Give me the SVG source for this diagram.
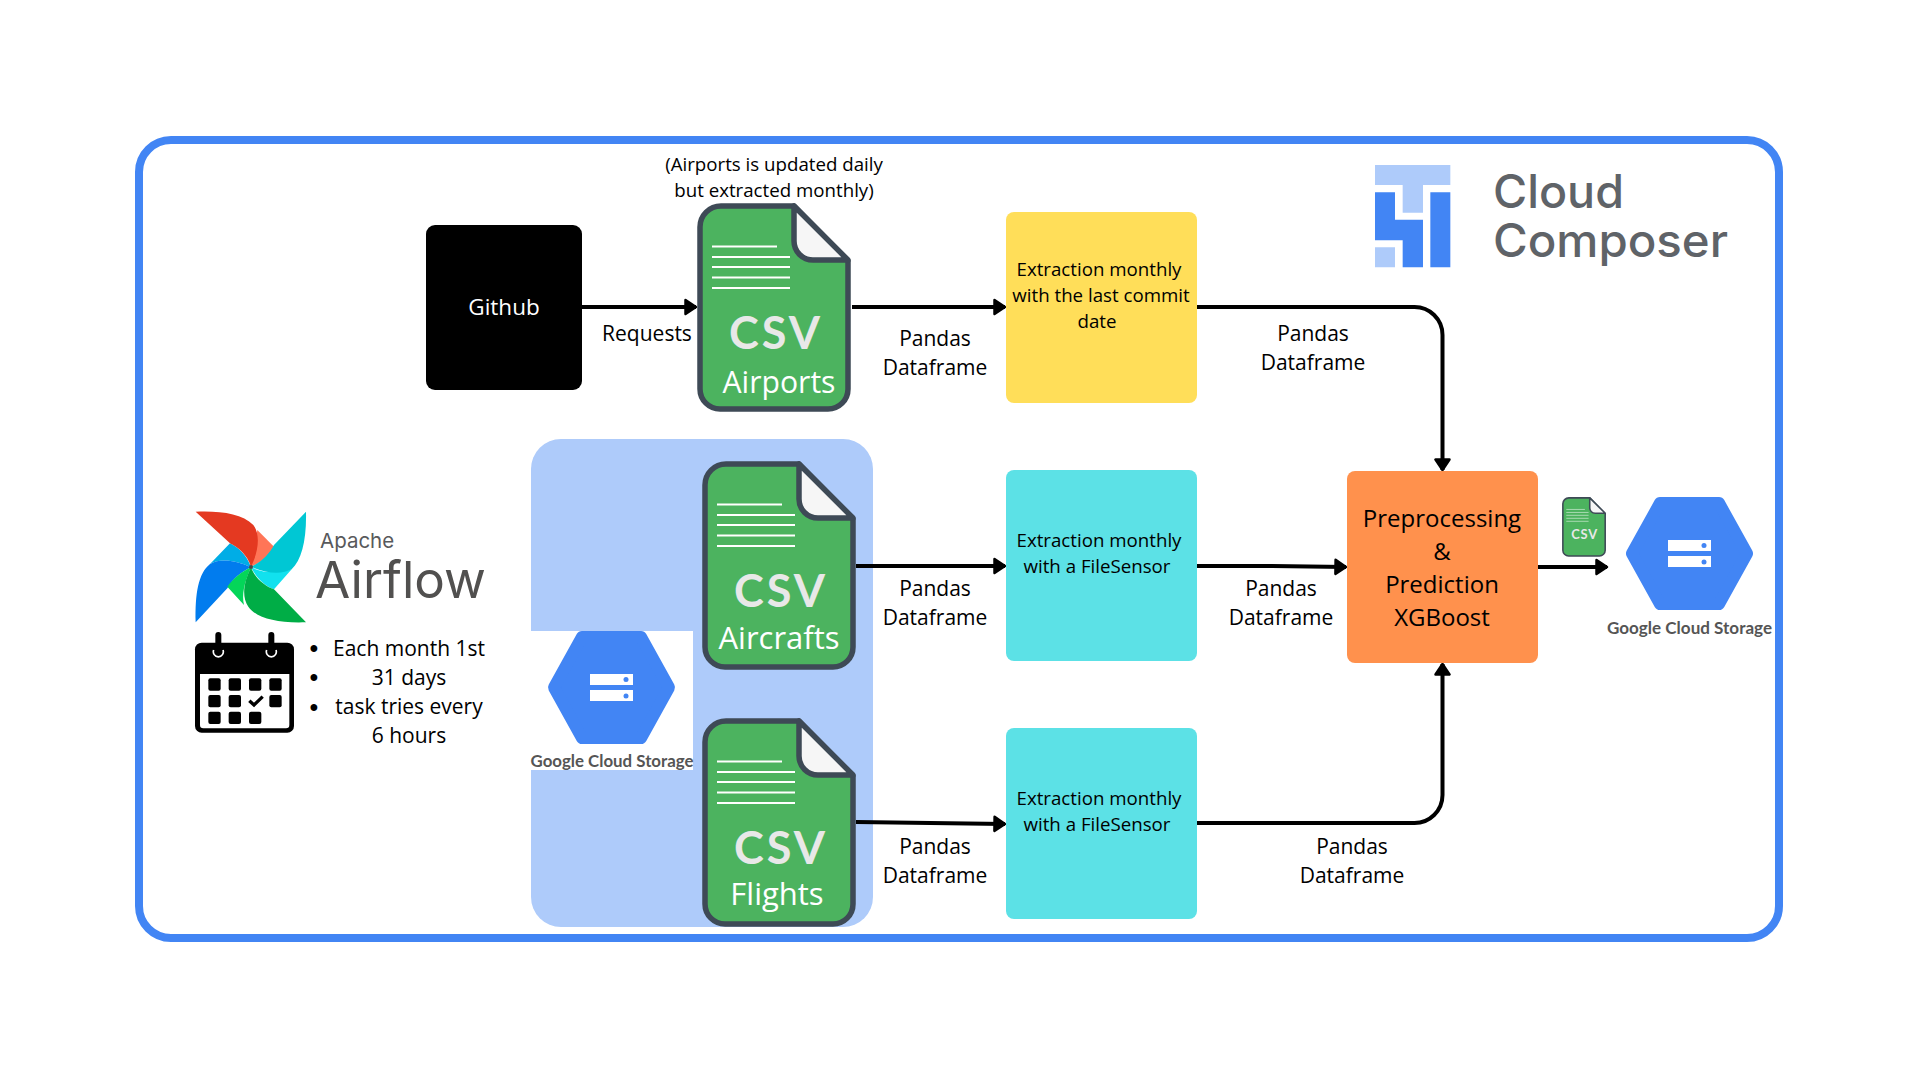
<svg xmlns="http://www.w3.org/2000/svg" xmlns:xlink="http://www.w3.org/1999/xlink" width="1920" height="1080" viewBox="0 0 1920 1080">
<style>
text{font-family:"Open Sans","Liberation Sans",sans-serif;fill:#000}
.l{font-size:21px;text-anchor:middle}
.b{font-family:"Liberation Sans",sans-serif;font-size:25px;text-anchor:middle}
.e{font-size:18.7px;text-anchor:middle}
.p{font-size:24px;text-anchor:middle}
.d{font-size:31px;text-anchor:middle;fill:#fff}
.c{font-family:Lato,"Open Sans",sans-serif;font-weight:700;font-size:45px;letter-spacing:3px;text-anchor:middle;fill:#e8e8e8}
.g{font-family:Lato,"Liberation Sans",sans-serif;font-weight:700;font-size:17px;fill:#555;text-anchor:middle}
.conn{fill:none;stroke:#000;stroke-width:4;marker-end:url(#arr)}
</style>
<defs>
<marker id="arr" viewBox="0 0 14 18" refX="12.5" refY="9" markerWidth="14" markerHeight="18" markerUnits="userSpaceOnUse" orient="auto"><path d="M2 2 L12.5 9 L2 16 Z" fill="#000" stroke="#000" stroke-width="2.5" stroke-linejoin="round"/></marker>
<g id="doc">
<path d="M24 3H97L151 58V186A20 20 0 0 1 131 206H23A20 20 0 0 1 3 186V24A21 21 0 0 1 24 3Z" fill="#4cb35f" stroke="#3e4a56" stroke-width="5.5" stroke-linejoin="round"/>
<path d="M97 3V38A19 19 0 0 0 116 57H151Z" fill="#f6f6f6" stroke="#3e4a56" stroke-width="5.5" stroke-linejoin="round"/>
<path d="M15 43.500H80M15 54H93M15 64H93M15 74.500H93M15 85H93" stroke="#fff" stroke-width="1.800" fill="none"/>
<text class="c" x="79" y="146">CSV</text>
</g>
<g id="hex">
<path d="M34 6H93L121 56.500L93 107H34L6 56.500Z" fill="#4285f4" stroke="#4285f4" stroke-width="12" stroke-linejoin="round"/>
<rect x="42" y="43" width="43" height="11" fill="#fff"/><rect x="42" y="59" width="43" height="11" fill="#fff"/>
<circle cx="78" cy="48.500" r="2.500" fill="#4285f4"/><circle cx="78" cy="65" r="2.500" fill="#4285f4"/>
</g>
</defs>
<rect width="1920" height="1080" fill="#fff"/>
<g id="frame"><rect x="139" y="140" width="1640" height="798" rx="32" fill="none" stroke="#4285f4" stroke-width="8"/></g>
<g id="gcs-panel"><rect x="531" y="439" width="342" height="488" rx="30" fill="#aecbfa"/></g>

<g id="connectors">
<path class="conn" d="M582 307H696"/>
<path class="conn" d="M852 307H1005"/>
<path class="conn" d="M1197 307H1414A28 28 0 0 1 1442.500 335V470"/>
<path class="conn" d="M856 566H1005"/>
<path class="conn" d="M1197 566H1272L1346 567"/>
<path class="conn" d="M856 822L1005 824"/>
<path class="conn" d="M1197 823H1414A28 28 0 0 0 1442.500 795V664"/>
<path class="conn" d="M1538 567H1607"/>
</g>

<g id="github"><rect x="426" y="225" width="156" height="165" rx="9" fill="#000"/><text x="504" y="315" font-size="22.500" text-anchor="middle" style="fill:#fff">Github</text></g>

<g id="airports-note"><text class="e" x="774" y="171">(Airports is updated daily</text><text class="e" x="774" y="197">but extracted monthly)</text></g>
<g id="airports"><use xlink:href="#doc" href="#doc" x="697" y="203"/><text class="d" x="779" y="393" textLength="113" lengthAdjust="spacingAndGlyphs">Airports</text></g>
<g id="aircrafts"><use xlink:href="#doc" href="#doc" x="702" y="461"/><text class="d" x="779" y="649">Aircrafts</text></g>
<g id="flights"><use xlink:href="#doc" href="#doc" x="702" y="718"/><text class="d" x="777" y="905">Flights</text></g>

<g id="gcs-left"><rect x="531" y="631" width="162" height="139" fill="#fff"/><use xlink:href="#hex" href="#hex" x="548" y="631"/><text class="g" x="612" y="767" textLength="163" lengthAdjust="spacingAndGlyphs">Google Cloud Storage</text></g>

<g id="extract-airports"><rect x="1006" y="212" width="191" height="191" rx="8" fill="#ffde59"/><text class="e" x="1099" y="276">Extraction monthly</text><text class="e" x="1101" y="302">with the last commit</text><text class="e" x="1097" y="328">date</text></g>
<g id="extract-aircrafts"><rect x="1006" y="470" width="191" height="191" rx="8" fill="#5ce1e6"/><text class="e" x="1099" y="547">Extraction monthly</text><text class="e" x="1097" y="573">with a FileSensor</text></g>
<g id="extract-flights"><rect x="1006" y="728" width="191" height="191" rx="8" fill="#5ce1e6"/><text class="e" x="1099" y="805">Extraction monthly</text><text class="e" x="1097" y="831">with a FileSensor</text></g>
<g id="prediction"><rect x="1347" y="471" width="191" height="192" rx="8" fill="#ff914d"/><text class="p" x="1442" y="527">Preprocessing</text><text class="p" x="1442" y="560">&amp;</text><text class="p" x="1442" y="593">Prediction</text><text class="p" x="1442" y="626">XGBoost</text></g>

<g id="csv-small"><use xlink:href="#doc" href="#doc" transform="translate(1562 497) scale(.286)"/></g>
<g id="gcs-right"><use xlink:href="#hex" href="#hex" x="1626" y="497"/><text class="g" x="1689.500" y="634" textLength="165" lengthAdjust="spacingAndGlyphs">Google Cloud Storage</text></g>

<g id="edge-labels">
<text class="l" x="647" y="341">Requests</text>
<text class="l" x="935" y="346">Pandas</text><text class="l" x="935" y="375">Dataframe</text>
<text class="l" x="1313" y="341">Pandas</text><text class="l" x="1313" y="370">Dataframe</text>
<text class="l" x="935" y="596">Pandas</text><text class="l" x="935" y="625">Dataframe</text>
<text class="l" x="1281" y="596">Pandas</text><text class="l" x="1281" y="625">Dataframe</text>
<text class="l" x="935" y="854">Pandas</text><text class="l" x="935" y="883">Dataframe</text>
<text class="l" x="1352" y="854">Pandas</text><text class="l" x="1352" y="883">Dataframe</text>
</g>

<g id="airflow-logo">
<g transform="translate(170 490) scale(.33333)">
<path d="M243 232C230 195 205 172 180 160L120 222C150 205 195 210 243 232Z" fill="#00ade6"/>
<path d="M77 397C75 310 85 250 120 222C150 205 195 210 243 232C215 245 190 265 172 295Z" fill="#017cee"/>
<path d="M262 120L312 170C300 195 270 220 243 230Z" fill="#ff7557"/>
<path d="M77 65C150 62 215 70 250 105C270 130 268 180 243 230C232 195 205 172 180 160Z" fill="#e43921"/>
<path d="M243 232C280 250 330 250 365 238L312 298C285 288 260 265 243 232Z" fill="#11e1ee"/>
<path d="M408 65C410 150 395 210 365 238C335 255 285 250 243 230C270 220 300 190 312 165Z" fill="#00c7d4"/>
<path d="M243 232C215 245 190 265 172 290L222 345C215 315 222 280 243 232Z" fill="#04d659"/>
<path d="M408 397C320 400 260 385 235 350C215 320 220 280 243 232C255 265 285 288 312 298Z" fill="#00ad46"/>
<circle cx="243" cy="231" r="6" fill="#4a4848"/>
</g>
<text style="font-family:Inter,'Open Sans',sans-serif"><tspan x="320" y="548" font-size="20.500" style="fill:#58595b">Apache</tspan><tspan x="315" y="598" font-size="51" textLength="171" lengthAdjust="spacingAndGlyphs" style="fill:#51504f">Airflow</tspan></text>
</g>

<g id="calendar"><g transform="translate(170 490) scale(.33333)">
<path d="M95 458H352A20 20 0 0 1 372 478V708A20 20 0 0 1 352 728H95A20 20 0 0 1 75 708V478A20 20 0 0 1 95 458Z" fill="#000"/>
<path d="M90 552H358V705A10 10 0 0 1 348 715H100A10 10 0 0 1 90 705Z" fill="#fff"/>
<path d="M145 435V480M304 435V480" stroke="#000" stroke-width="18" stroke-linecap="round" fill="none"/>
<path d="M131 480A15 15 0 1 0 159 480M290 480A15 15 0 1 0 318 480" stroke="#fff" stroke-width="5" fill="none"/>
<g fill="#000">
<rect x="115" y="565" width="37" height="37" rx="6"/><rect x="176" y="565" width="37" height="37" rx="6"/><rect x="237" y="565" width="37" height="37" rx="6"/><rect x="298" y="565" width="37" height="37" rx="6"/>
<rect x="115" y="615" width="37" height="37" rx="6"/><rect x="176" y="615" width="37" height="37" rx="6"/><rect x="298" y="615" width="37" height="37" rx="6"/>
<rect x="115" y="665" width="37" height="37" rx="6"/><rect x="176" y="665" width="37" height="37" rx="6"/><rect x="237" y="665" width="37" height="37" rx="6"/>
</g>
<path d="M238 632L252 645L278 620" stroke="#000" stroke-width="10" fill="none"/>
</g></g>

<g id="schedule">
<text class="b" x="314" y="657">•</text><text class="b" x="314" y="686">•</text><text class="b" x="314" y="716">•</text>
<text class="l" x="409" y="656">Each month 1st</text>
<text class="l" x="409" y="685">31 days</text>
<text class="l" x="409" y="714">task tries every</text>
<text class="l" x="409" y="743">6 hours</text>
</g>

<g id="cloud-composer"><g transform="translate(1340 130) scale(.33333)">
<path d="M105 105H331V165H249V248H188V165H105ZM105 352H165V412H105Z" fill="#aecbfa"/>
<path d="M271 187H331V412H271ZM105 187H165V269H249V412H188V331H105Z" fill="#4285f4"/>
</g>
<text font-size="46" font-weight="500" style="font-family:Inter,'Open Sans',sans-serif;fill:#5f6368"><tspan x="1493" y="208" textLength="131" lengthAdjust="spacingAndGlyphs">Cloud</tspan><tspan x="1493" y="257" textLength="235" lengthAdjust="spacingAndGlyphs">Composer</tspan></text>
</g>
</svg>
